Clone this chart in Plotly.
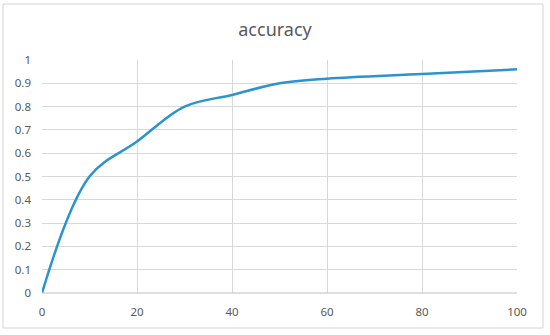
import plotly.graph_objects as go

epochs = [0, 10, 20, 30, 40, 50, 60, 80, 100]
accuracy = [0, 0.5, 0.65, 0.8, 0.85, 0.9, 0.92, 0.94, 0.96]
title_text = "accuracy"

W, H = 550, 335
L, R, T, B = 42, 33, 60, 42
pw, ph = W - L - R, H - T - B

fig = go.Figure()
fig.add_trace(go.Scatter(
    x=epochs, y=accuracy, mode="lines",
    line=dict(color="#2b93cf", width=2.5, shape="spline", smoothing=1.0),
    showlegend=False, hoverinfo="skip"))

grid = "#d9d9d9"
tickfont = dict(family="Noto Sans, Open Sans, sans-serif", size=11.5, color="#595959")
fig.update_layout(
    width=W, height=H,
    margin=dict(l=L, r=R, t=T, b=B, autoexpand=False),
    paper_bgcolor="white", plot_bgcolor="white",
    title=dict(text=title_text, x=0.5, xanchor="center", y=1 - 30 / H, yanchor="middle",
               font=dict(family="Noto Sans, Open Sans, sans-serif", size=18, color="#595959")),
    xaxis=dict(range=[0, 100], tick0=0, dtick=20, showgrid=True, gridcolor=grid, gridwidth=1,
               zeroline=False, showline=False, ticks="", tickfont=tickfont, ticklabelstandoff=10,
               automargin=False),
    yaxis=dict(range=[0, 1], tick0=0, dtick=0.1, showgrid=True, gridcolor=grid, gridwidth=1,
               zeroline=False, showline=False, ticks="", tickfont=tickfont, ticklabelstandoff=10,
               automargin=False),
    shapes=[
        dict(type="rect", xref="paper", yref="paper",
             x0=(3 - L) / pw, x1=(543 - L) / pw,
             y0=-(328 - (T + ph)) / ph, y1=1 + (T - 4) / ph,
             line=dict(color="#d4d4d4", width=1), fillcolor="rgba(0,0,0,0)", layer="below"),
        dict(type="line", xref="paper", yref="paper", x0=0, x1=1, y0=0, y1=0,
             line=dict(color="#bfbfbf", width=1)),
    ],
)
fig.write_html("out.html", config={"displayModeBar": False, "staticPlot": True},
               post_script="document.body.style.margin='0';document.body.style.overflow='hidden';")
